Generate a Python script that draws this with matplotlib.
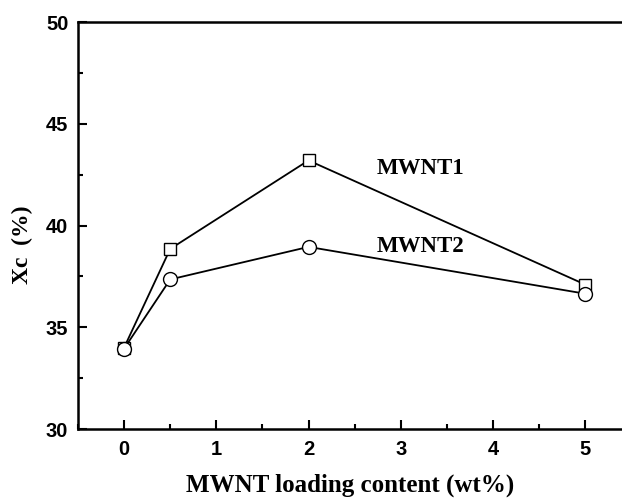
import matplotlib
matplotlib.use("Agg")
import matplotlib.pyplot as plt
from matplotlib.ticker import MultipleLocator

# data
loading = [0, 0.5, 2, 5]
xc_mwnt1 = [34.0, 38.85, 43.2, 37.1]
xc_mwnt2 = [33.95, 37.35, 38.95, 36.65]

fig = plt.figure(figsize=(6.22, 5.01), dpi=100)
# the frame runs past the right edge of the picture in the original
ax = fig.add_axes([0.1254, 0.1437, 0.8746, 0.8123])

ax.plot(loading, xc_mwnt1, color='k', lw=1.3, marker='s', ms=8.5,
        mfc='w', mec='k', mew=1.0)
ax.plot(loading, xc_mwnt2, color='k', lw=1.3, marker='o', ms=10,
        mfc='w', mec='k', mew=1.0)

ax.text(2.74, 42.52, "MWNT1", fontsize=16.5, fontweight='bold',
        family='Liberation Serif', va='baseline', ha='left')
ax.text(2.74, 38.70, "MWNT2", fontsize=16.5, fontweight='bold',
        family='Liberation Serif', va='baseline', ha='left')

ax.set_xlim(-0.5, 5.40)
ax.set_ylim(30, 50)
ax.xaxis.set_major_locator(MultipleLocator(1))
ax.xaxis.set_minor_locator(MultipleLocator(0.5))
ax.yaxis.set_major_locator(MultipleLocator(5))
ax.yaxis.set_minor_locator(MultipleLocator(2.5))
ax.set_xticks([0, 1, 2, 3, 4, 5])

ax.tick_params(which='both', direction='in', top=False, right=False)
ax.tick_params(which='major', length=6.5, width=1.5)
ax.tick_params(which='minor', length=3.5, width=1.5)
ax.tick_params(axis='x', pad=8)
ax.tick_params(axis='y', pad=7)
for lab in ax.get_xticklabels() + ax.get_yticklabels():
    lab.set_family('Liberation Sans')
    lab.set_fontweight('bold')
    lab.set_fontsize(14.5)

for s in ax.spines.values():
    s.set_linewidth(1.8)
ax.spines['right'].set_visible(False)

ax.set_xlabel("MWNT loading content (wt%)", fontsize=18, fontweight='bold',
              family='Liberation Serif')
ax.set_ylabel("Xc  (%)", fontsize=17, fontweight='bold',
              family='Liberation Serif')
ax.xaxis.set_label_coords(0.5, -0.11)
ax.yaxis.set_label_coords(-0.083, 0.452)

fig.savefig("out.png", dpi=100)
